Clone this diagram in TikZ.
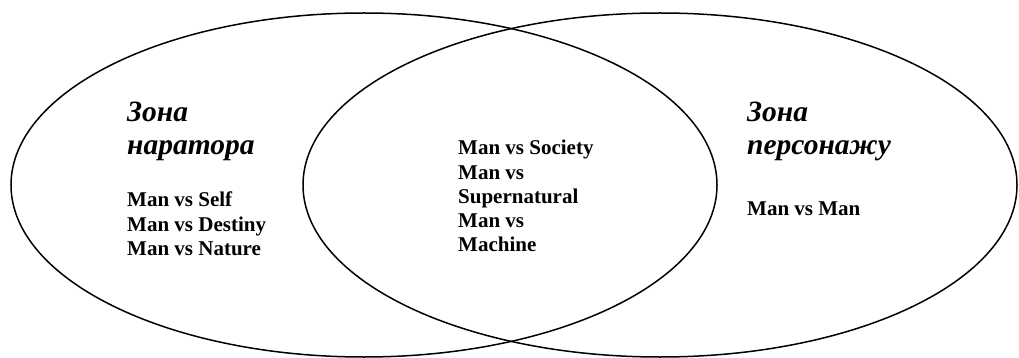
\documentclass[tikz,border=0pt]{standalone}
\usepackage{fontspec}
\setmainfont{Liberation Serif}
\usetikzlibrary{shapes.geometric}
\begin{document}
\begin{tikzpicture}[x=1pt,y=-1pt,
  venn/.style={ellipse,draw=black,line width=1.5pt,inner sep=0pt,outer sep=0pt},
  head/.style={anchor=base west,inner sep=0pt,font=\fontsize{29.5}{33}\selectfont\bfseries\itshape},
  item/.style={anchor=base west,inner sep=0pt,font=\fontsize{21}{24}\selectfont\bfseries}]
\useasboundingbox (0,0) rectangle (1019,358);
\node[venn,minimum width=706pt,minimum height=344pt] (L) at (364,185) {};
\node[venn,minimum width=714pt,minimum height=344pt] (R) at (660,185) {};
% left
\node[head] (lh1) at (127,122) {Зона};
\node[head] (lh2) at (127,155) {наратора};
\node[item] (l1) at (127,207) {Man vs Self};
\node[item] (l2) at (127,231) {Man vs Destiny};
\node[item] (l3) at (127,255) {Man vs Nature};
% middle
\node[item] (m1) at (458,155) {Man vs Society};
\node[item] (m2) at (458,179) {Man vs};
\node[item] (m3) at (458,203) {Supernatural};
\node[item] (m4) at (458,227) {Man vs};
\node[item] (m5) at (458,251) {Machine};
% right
\node[head] (rh1) at (747,122) {Зона};
\node[head] (rh2) at (747,155) {персонажу};
\node[item] (r1) at (747,215) {Man vs Man};
\end{tikzpicture}
\end{document}
